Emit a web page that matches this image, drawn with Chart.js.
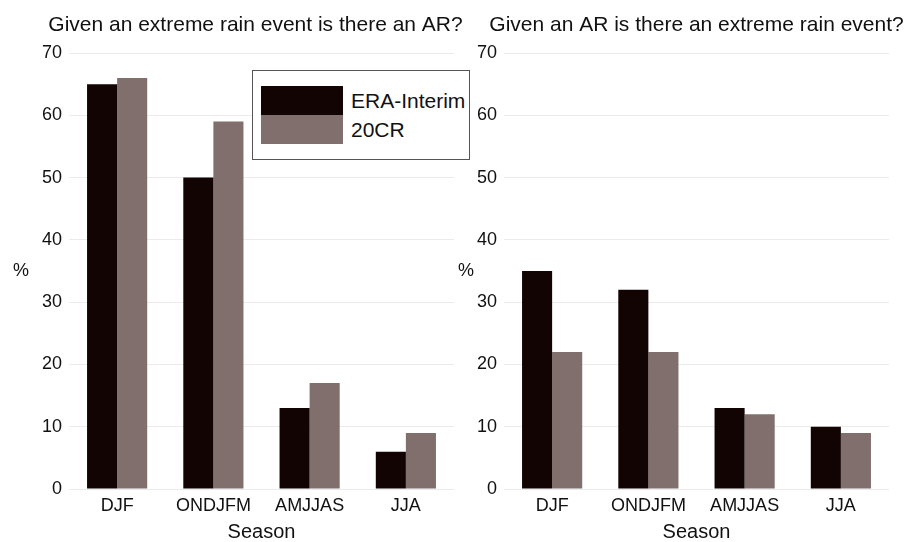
<!DOCTYPE html>
<html>
<head>
<meta charset="utf-8">
<script src="https://cdn.jsdelivr.net/npm/chart.js@4.4.0/dist/chart.umd.min.js"></script>
<style>
    body { margin: 0; background: #fff; font-family: "Liberation Sans", Arial, sans-serif; }
    .panel { position: absolute; top: 0; height: 542px; }
    #leftPanel { left: 0; width: 475px; }
    #rightPanel { left: 455px; width: 456px; }
    #legend {
        position: absolute; left: 252px; top: 70px; width: 216px; height: 88px;
        border: 1px solid #555; background: #fff; color: #111; font-size: 21px;
    }
    .legend-row { position: absolute; left: 8px; height: 29px; }
    .legend-row span.swatch { position: absolute; left: 0; top: 0; width: 82px; height: 100%; }
    .legend-row span.text { position: absolute; left: 90px; top: 50%; transform: translateY(-50%); white-space: nowrap; }
</style>
</head>
<body>
<div class="panel" id="leftPanel"><canvas id="condChart"></canvas></div>
<div class="panel" id="rightPanel"><canvas id="arChart"></canvas></div>
<div id="legend"></div>
<script>
// Seasons and percentages
const seasons = ['DJF', 'ONDJFM', 'AMJJAS', 'JJA'];
const yTicks = [0, 10, 20, 30, 40, 50, 60, 70];

// Given an extreme rain event is there an AR?
const rainEraInterim = [65, 50, 13, 6];
const rain20CR = [66, 59, 17, 9];

// Given an AR is there an extreme rain event?
const arEraInterim = [35, 32, 13, 10];
const ar20CR = [22, 22, 12, 9];

const seriesNames = ['ERA-Interim', '20CR'];
const seriesColors = ['#130404', '#806f6c'];

const fontFamily = '"Liberation Sans", Arial, sans-serif';

// panel title (not squeezed to the plot width) and the horizontal "%" label
const panelText = {
    id: 'panelText',
    afterDraw(chart, args, opts) {
        const { ctx, chartArea } = chart;
        ctx.save();
        ctx.fillStyle = '#111';
        ctx.textBaseline = 'middle';
        ctx.font = '21px ' + fontFamily;
        ctx.textAlign = 'center';
        ctx.fillText(opts.title, (chartArea.left + chartArea.right) / 2 + opts.titleShift, 25);
        ctx.font = '18px ' + fontFamily;
        ctx.textAlign = 'left';
        ctx.fillText('%', opts.pctX, (chartArea.top + chartArea.bottom) / 2);
        ctx.restore();
    }
};

function makeChart(id, title, eraData, crData, yWidth, padRight, pctX, titleShift) {
    const ctx = document.getElementById(id);
    return new Chart(ctx, {
        type: 'bar',
        data: {
            labels: seasons,
            datasets: [
                {
                    label: seriesNames[0],
                    data: eraData,
                    backgroundColor: seriesColors[0],
                    categoryPercentage: 0.625,
                    barPercentage: 1
                },
                {
                    label: seriesNames[1],
                    data: crData,
                    backgroundColor: seriesColors[1],
                    categoryPercentage: 0.625,
                    barPercentage: 1
                }
            ]
        },
        plugins: [panelText],
        options: {
            responsive: true,
            maintainAspectRatio: false,
            animation: false,
            layout: { padding: { left: 0, right: padRight, top: 53, bottom: 0 } },
            plugins: {
                legend: { display: false },
                tooltip: { enabled: false },
                panelText: { title, pctX, titleShift }
            },
            scales: {
                x: {
                    grid: { display: false, drawTicks: false },
                    border: { display: false },
                    ticks: { color: '#111', padding: 6, font: { family: fontFamily, size: 18 } },
                    title: {
                        display: true,
                        text: 'Season',
                        color: '#111',
                        font: { family: fontFamily, size: 20, lineHeight: 1 },
                        padding: { top: 0, bottom: 0 }
                    },
                    afterFit(scale) { scale.height = 53; }
                },
                y: {
                    min: 0,
                    max: 70,
                    afterBuildTicks(scale) { scale.ticks = yTicks.map(v => ({ value: v })); },
                    grid: { color: '#ebebeb', lineWidth: 1, drawTicks: false },
                    border: { display: false },
                    ticks: { color: '#111', padding: 7, font: { family: fontFamily, size: 18 } },
                    afterFit(scale) { scale.width = yWidth; }
                }
            }
        }
    });
}

function buildLegend(chart) {
    const box = document.getElementById('legend');
    const tops = [15, 44];
    chart.data.datasets.forEach((ds, i) => {
        const row = document.createElement('div');
        row.className = 'legend-row';
        row.style.top = tops[i] + 'px';
        row.innerHTML = '<span class="swatch" style="background:' + ds.backgroundColor +
            '"></span><span class="text">' + ds.label + '</span>';
        box.appendChild(row);
    });
}

// left canvas is wider than its plot so its long title is not cut at the panel edge
const condChart = makeChart('condChart', 'Given an extreme rain event is there an AR?',
    rainEraInterim, rain20CR, 69, 21, 13, -6);
makeChart('arChart', 'Given an AR is there an extreme rain event?',
    arEraInterim, ar20CR, 49, 22, 3, 0);
buildLegend(condChart);
</script>
</body>
</html>
